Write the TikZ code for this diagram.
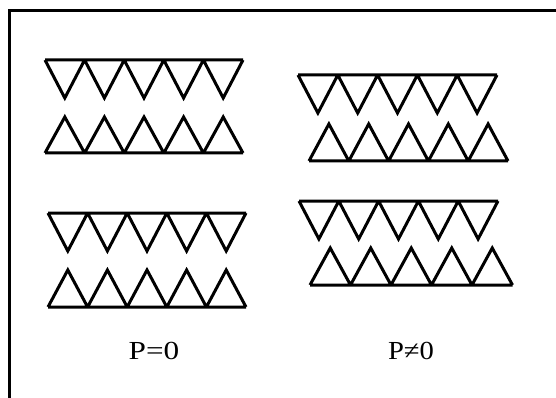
\documentclass[tikz,border=0pt]{standalone}
\usepackage{fontspec}
\setmainfont{Liberation Serif}
\begin{document}
\begin{tikzpicture}[x=1pt,y=-1pt,
  teeth/.style={line width=3pt,line join=miter,line cap=butt},
  frameline/.style={line width=3pt},
  lbl/.style={font=\fontsize{26}{30}\selectfont,inner sep=0pt,anchor=base}]
\useasboundingbox (0,0) rectangle (556,398);
% frame (top and left edges only)
\draw[frameline] (9,398) -- (9,11) -- (556,11);
% down row: base at y, apex at y+h
\newcommand{\downrow}[4]{% x0, y, h, w
  \draw[teeth] (#1,#2) -- ({#1+5*#4},#2)
    \foreach \i in {0,...,4} {
      ({#1+\i*#4},#2) -- ({#1+\i*#4+#4/2},{#2+#3}) -- ({#1+(\i+1)*#4},#2)
    };}
\newcommand{\uprow}[4]{% x0, base y, h, w
  \draw[teeth] (#1,#2) -- ({#1+5*#4},#2)
    \foreach \i in {0,...,4} {
      ({#1+\i*#4},#2) -- ({#1+\i*#4+#4/2},{#2-#3}) -- ({#1+(\i+1)*#4},#2)
    };}
% P=0 column
\downrow{45}{60}{38}{39.6}
\uprow{45}{153}{36}{39.6}
\downrow{48}{213}{38}{39.6}
\uprow{48}{307}{37}{39.6}
% P!=0 column
\downrow{298}{75}{38}{39.8}
\uprow{309}{161}{37}{39.8}
\downrow{299}{201}{38}{39.8}
\uprow{310}{285}{37}{40.5}
\node[lbl] (p0) at (154,359) {\scalebox{1.2}[1]{P=0}};
\node[lbl] (pn) at (411,359) {\scalebox{1.1}[1]{P≠0}};
\end{tikzpicture}
\end{document}
